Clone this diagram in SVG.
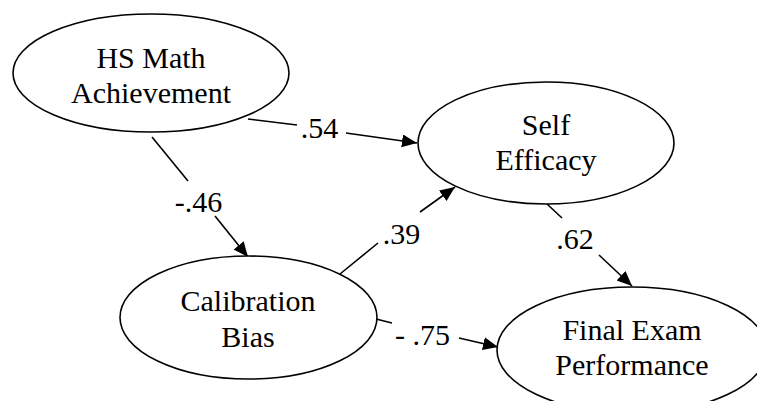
<svg xmlns="http://www.w3.org/2000/svg" width="757" height="401" viewBox="0 0 757 401">
  <style>
    .node { fill: #ffffff; stroke: #000000; stroke-width: 1.6; }
    .label { font-family: "Liberation Serif", "Times New Roman", serif; font-size: 30px; fill: #000000; text-anchor: middle; }
    .edge { stroke: #000000; stroke-width: 1.6; fill: none; }
  </style>
  <defs>
    <marker id="arrow" markerUnits="userSpaceOnUse" markerWidth="16" markerHeight="14" refX="15" refY="6.5" orient="auto">
      <path d="M0,0 L15,6.5 L0,13 Z" fill="#000000"/>
    </marker>
  </defs>
  <rect width="757" height="401" fill="#ffffff"/>

  <g id="connectors">
    <!-- HS Math -> Self Efficacy -->
    <line class="edge" x1="248" y1="119" x2="297" y2="125"/>
    <line class="edge" x1="346" y1="133" x2="417" y2="143" marker-end="url(#arrow)"/>
    <text class="label" x="319.5" y="138">.54</text>
    <!-- HS Math -> Calibration Bias -->
    <line class="edge" x1="152" y1="137" x2="188" y2="181"/>
    <line class="edge" x1="215" y1="216" x2="248" y2="257" marker-end="url(#arrow)"/>
    <text class="label" x="198.5" y="212">-.46</text>
    <!-- Calibration Bias -> Self Efficacy -->
    <line class="edge" x1="340" y1="274" x2="378" y2="243"/>
    <line class="edge" x1="420" y1="212" x2="455" y2="187" marker-end="url(#arrow)"/>
    <text class="label" x="401.5" y="244">.39</text>
    <!-- Self Efficacy -> Final Exam Performance -->
    <line class="edge" x1="547" y1="204" x2="562" y2="218"/>
    <line class="edge" x1="599" y1="255" x2="632" y2="286" marker-end="url(#arrow)"/>
    <text class="label" x="575" y="249">.62</text>
    <!-- Calibration Bias -> Final Exam Performance -->
    <line class="edge" x1="376" y1="319" x2="392" y2="323"/>
    <line class="edge" x1="459" y1="338" x2="498" y2="347" marker-end="url(#arrow)"/>
    <text class="label" x="422.5" y="345" xml:space="preserve">- .75</text>
  </g>

  <g id="hs-math">
    <ellipse class="node" cx="151" cy="73" rx="138" ry="59"/>
    <text class="label" x="151" y="68">HS Math</text>
    <text class="label" x="151" y="103">Achievement</text>
  </g>

  <g id="self-efficacy">
    <ellipse class="node" cx="546" cy="143" rx="128" ry="61"/>
    <text class="label" x="546" y="135">Self</text>
    <text class="label" x="546" y="170">Efficacy</text>
  </g>

  <g id="calibration-bias">
    <ellipse class="node" cx="248.5" cy="317.5" rx="128.5" ry="61.5"/>
    <text class="label" x="248" y="311">Calibration</text>
    <text class="label" x="248" y="347">Bias</text>
  </g>

  <g id="final-exam">
    <ellipse class="node" cx="632" cy="350" rx="135" ry="63"/>
    <text class="label" x="632" y="340">Final Exam</text>
    <text class="label" x="632" y="375">Performance</text>
  </g>
</svg>
